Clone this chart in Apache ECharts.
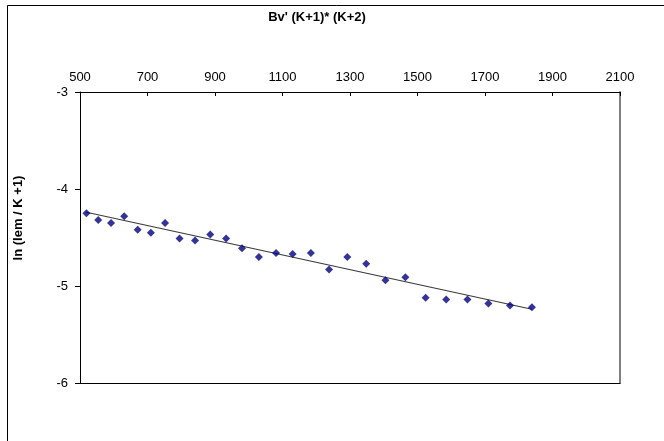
<!DOCTYPE html>
<html>
<head>
<meta charset="utf-8">
<script src="https://cdn.jsdelivr.net/npm/echarts@6/dist/echarts.min.js"></script>
<style>html,body{margin:0;padding:0;background:#fff;}#chart{width:664px;height:441px;}</style>
</head>
<body>
<div id="chart"></div>
<script>
var xValues = [519, 554, 592, 631, 671, 710, 752, 795, 841, 886, 933, 980, 1030, 1081, 1130, 1184, 1238, 1292, 1348, 1405, 1464, 1524, 1585, 1648, 1710, 1774, 1839];
var yValues = [-4.25, -4.32, -4.35, -4.28, -4.42, -4.45, -4.35, -4.51, -4.53, -4.47, -4.51, -4.61, -4.70, -4.66, -4.67, -4.66, -4.83, -4.70, -4.77, -4.94, -4.91, -5.12, -5.14, -5.14, -5.18, -5.20, -5.22];
var trendX = [519, 1839];
var trendY = [-4.24, -5.24];
var xTitle = "Bv' (K+1)* (K+2)";
var yTitle = "ln (Iem / K +1)";

var points = xValues.map(function (x, i) { return [x, yValues[i]]; });
var trend = trendX.map(function (x, i) { return [x, trendY[i]]; });

var font = 'Liberation Sans, Arial, sans-serif';
var chart = echarts.init(document.getElementById('chart'), null, {renderer: 'canvas'});
chart.setOption({
  animation: false,
  backgroundColor: '#ffffff',
  grid: {left: 80, right: 44, top: 92, bottom: 58, containLabel: false},
  xAxis: [{
    type: 'value', position: 'top', min: 500, max: 2100, interval: 200,
    axisLine: {show: true, onZero: false, lineStyle: {color: '#000', width: 1}},
    axisTick: {show: true, inside: true, length: 4, lineStyle: {color: '#000'}},
    axisLabel: {show: true, margin: 8, color: '#000', fontSize: 13, fontFamily: font,
      formatter: function (v) { return String(v); }},
    splitLine: {show: false}
  }, {
    type: 'value', position: 'bottom', min: 500, max: 2100, interval: 200,
    axisLine: {show: true, onZero: false, lineStyle: {color: '#000', width: 1}},
    axisTick: {show: false}, axisLabel: {show: false}, splitLine: {show: false}
  }],
  yAxis: [{
    type: 'value', min: -6, max: -3, interval: 1,
    axisLine: {show: true, onZero: false, lineStyle: {color: '#000', width: 1}},
    axisTick: {show: true, inside: false, length: 5, lineStyle: {color: '#000'}},
    axisLabel: {show: true, margin: 12, color: '#000', fontSize: 13, fontFamily: font,
      formatter: function (v) { return String(v); }},
    splitLine: {show: false}
  }, {
    type: 'value', position: 'right', min: -6, max: -3, interval: 1,
    axisLine: {show: true, onZero: false, lineStyle: {color: '#808080', width: 2}},
    axisTick: {show: false}, axisLabel: {show: false}, splitLine: {show: false}
  }],
  series: [{
    type: 'line', data: trend, xAxisIndex: 0, yAxisIndex: 0,
    symbol: 'none', lineStyle: {color: '#3a3a3a', width: 1.2}, z: 2
  }, {
    type: 'scatter', data: points, xAxisIndex: 0, yAxisIndex: 0,
    symbol: 'diamond', symbolSize: 8,
    itemStyle: {color: '#000080'}, z: 3
  }],
  graphic: [
    {type: 'rect', shape: {x: 7.5, y: 5.5, width: 700, height: 500}, style: {fill: 'none', stroke: '#000', lineWidth: 1}, silent: true},
    {type: 'text', x: 317, y: 17, style: {text: xTitle, font: 'bold 13px ' + font, fill: '#000', textAlign: 'center', textVerticalAlign: 'middle'}},
    {type: 'text', x: 18, y: 218, rotation: Math.PI / 2, style: {text: yTitle, font: 'bold 13px ' + font, fill: '#000', textAlign: 'center', textVerticalAlign: 'middle'}}
  ]
});
</script>
</body>
</html>
